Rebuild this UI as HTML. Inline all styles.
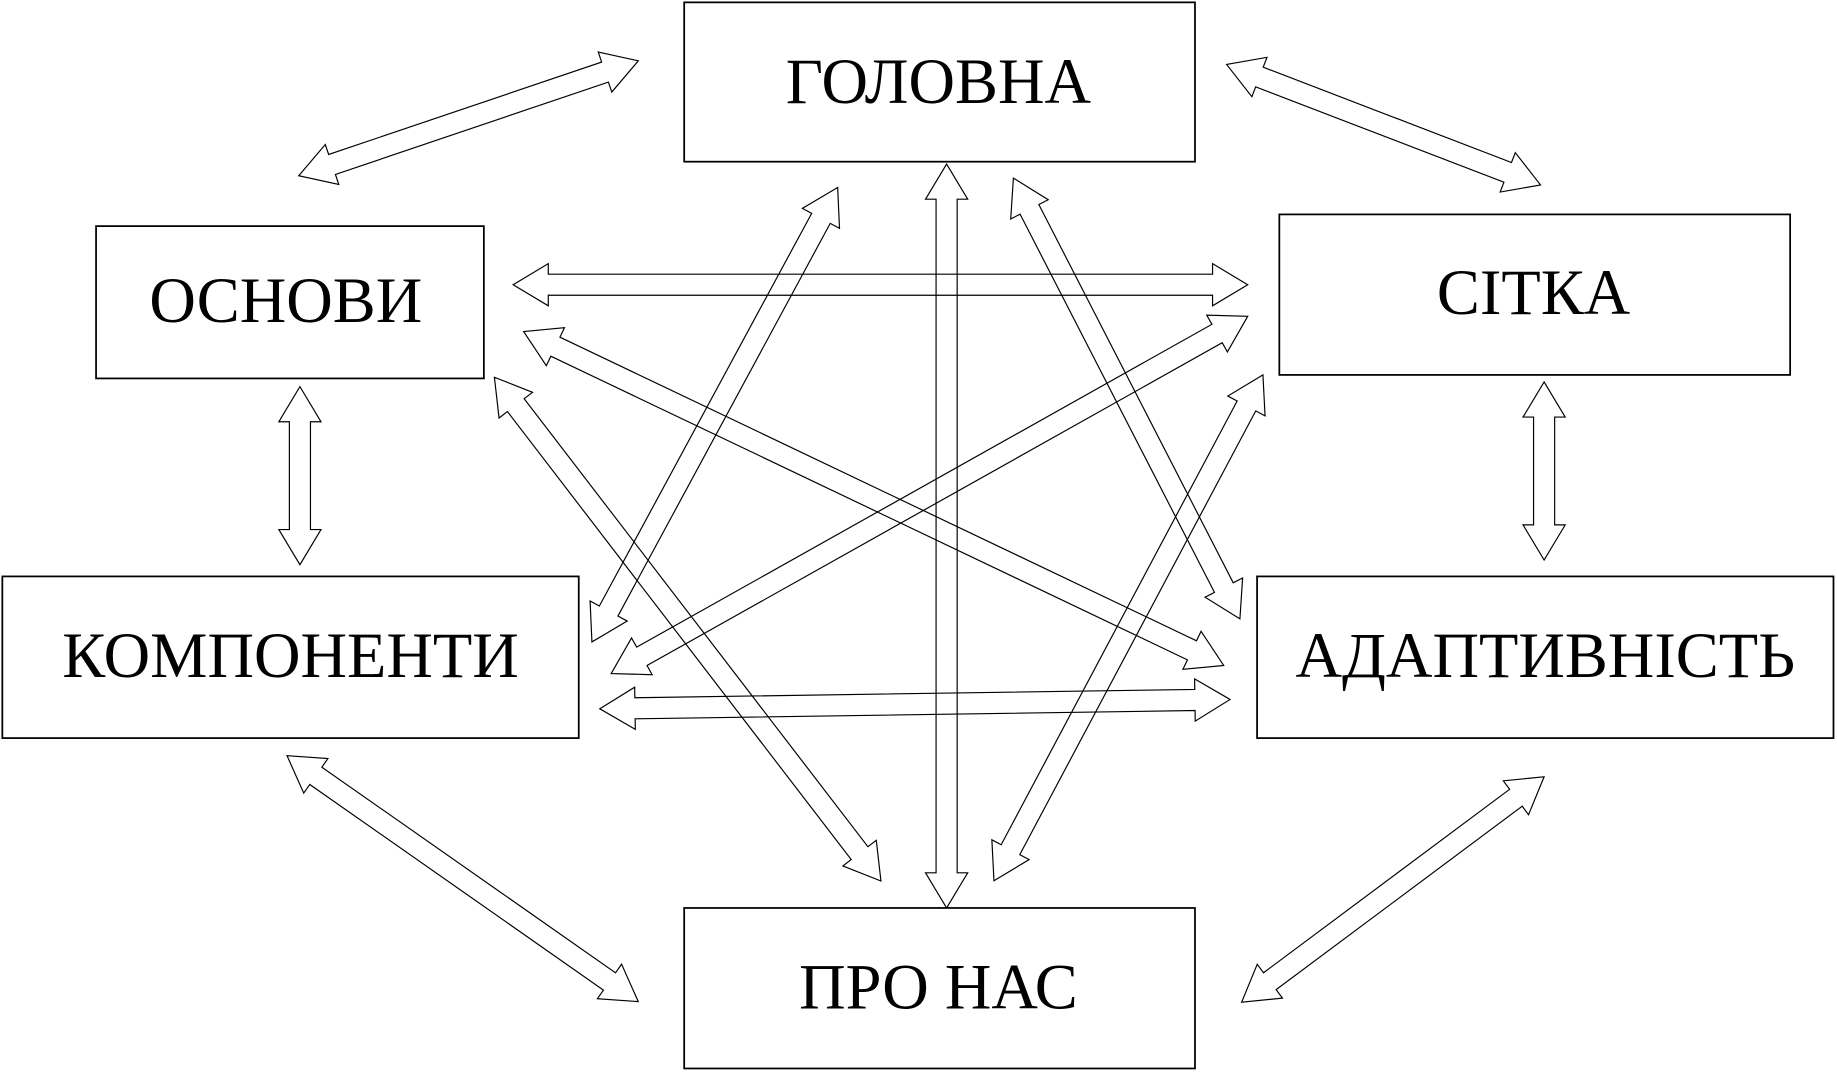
<!DOCTYPE html>
<html><head><meta charset="utf-8"><style>
html,body{margin:0;padding:0;background:#fff}
svg{display:block}
text{font-family:"Liberation Serif","DejaVu Serif",serif;font-size:55px;fill:#000}
</style></head><body>
<svg width="1837" height="1072" viewBox="0 0 1568 915" xmlns="http://www.w3.org/2000/svg">
<g fill="none" stroke="#000" stroke-width="1">
<polygon transform="translate(255,150) rotate(-18.7)" points="0,0 30,-18 30,-9 276,-9 276,-18 306,0 276,18 276,9 30,9 30,18"/>
<polygon transform="translate(1047,55) rotate(21)" points="0,0 30,-18 30,-9 257,-9 257,-18 287,0 257,18 257,9 30,9 30,18"/>
<polygon transform="translate(256,330) rotate(90)" points="0,0 30,-18 30,-9 122,-9 122,-18 152,0 122,18 122,9 30,9 30,18"/>
<polygon transform="translate(1318,326) rotate(90)" points="0,0 30,-18 30,-9 122,-9 122,-18 152,0 122,18 122,9 30,9 30,18"/>
<polygon transform="translate(245,645) rotate(35)" points="0,0 30,-18 30,-9 336,-9 336,-18 366,0 336,18 336,9 30,9 30,18"/>
<polygon transform="translate(1318,663) rotate(143.3)" points="0,0 30,-18 30,-9 292,-9 292,-18 322,0 292,18 292,9 30,9 30,18"/>
<polygon transform="translate(438,243) rotate(0)" points="0,0 30,-18 30,-9 597,-9 597,-18 627,0 597,18 597,9 30,9 30,18"/>
<polygon transform="translate(512,605) rotate(-0.85)" points="0,0 30,-18 30,-9 508,-9 508,-18 538,0 508,18 508,9 30,9 30,18"/>
<polygon transform="translate(808,140) rotate(90)" points="0,0 30,-18 30,-9 605,-9 605,-18 635,0 605,18 605,9 30,9 30,18"/>
<polygon transform="translate(715,160) rotate(118.4)" points="0,0 30,-18 30,-9 411,-9 411,-18 441,0 411,18 411,9 30,9 30,18"/>
<polygon transform="translate(865,152) rotate(62.8)" points="0,0 30,-18 30,-9 393,-9 393,-18 423,0 393,18 393,9 30,9 30,18"/>
<polygon transform="translate(447,283) rotate(25.5)" points="0,0 30,-18 30,-9 632,-9 632,-18 662,0 632,18 632,9 30,9 30,18"/>
<polygon transform="translate(1065,270) rotate(150.7)" points="0,0 30,-18 30,-9 593,-9 593,-18 623,0 593,18 593,9 30,9 30,18"/>
<polygon transform="translate(422,322) rotate(52.5)" points="0,0 30,-18 30,-9 512,-9 512,-18 542,0 512,18 512,9 30,9 30,18"/>
<polygon transform="translate(1078,320) rotate(118)" points="0,0 30,-18 30,-9 459,-9 459,-18 489,0 459,18 459,9 30,9 30,18"/>
</g>
<g fill="#fff" stroke="#000" stroke-width="1.5">
<rect x="584" y="2" width="436" height="136"/>
<rect x="82" y="193" width="331" height="130"/>
<rect x="1092" y="183" width="436" height="137"/>
<rect x="2" y="492" width="492" height="138"/>
<rect x="1073" y="492" width="492" height="138"/>
<rect x="584" y="775" width="436" height="137"/>
</g>
<g text-anchor="middle">
<text x="801" y="88">ГОЛОВНА</text>
<text x="244" y="275">ОСНОВИ</text>
<text x="1309" y="268">СІТКА</text>
<text x="248" y="578">КОМПОНЕНТИ</text>
<text x="1319" y="578">АДАПТИВНІСТЬ</text>
<text x="801" y="861">ПРО НАС</text>
</g>
</svg>
</body></html>
